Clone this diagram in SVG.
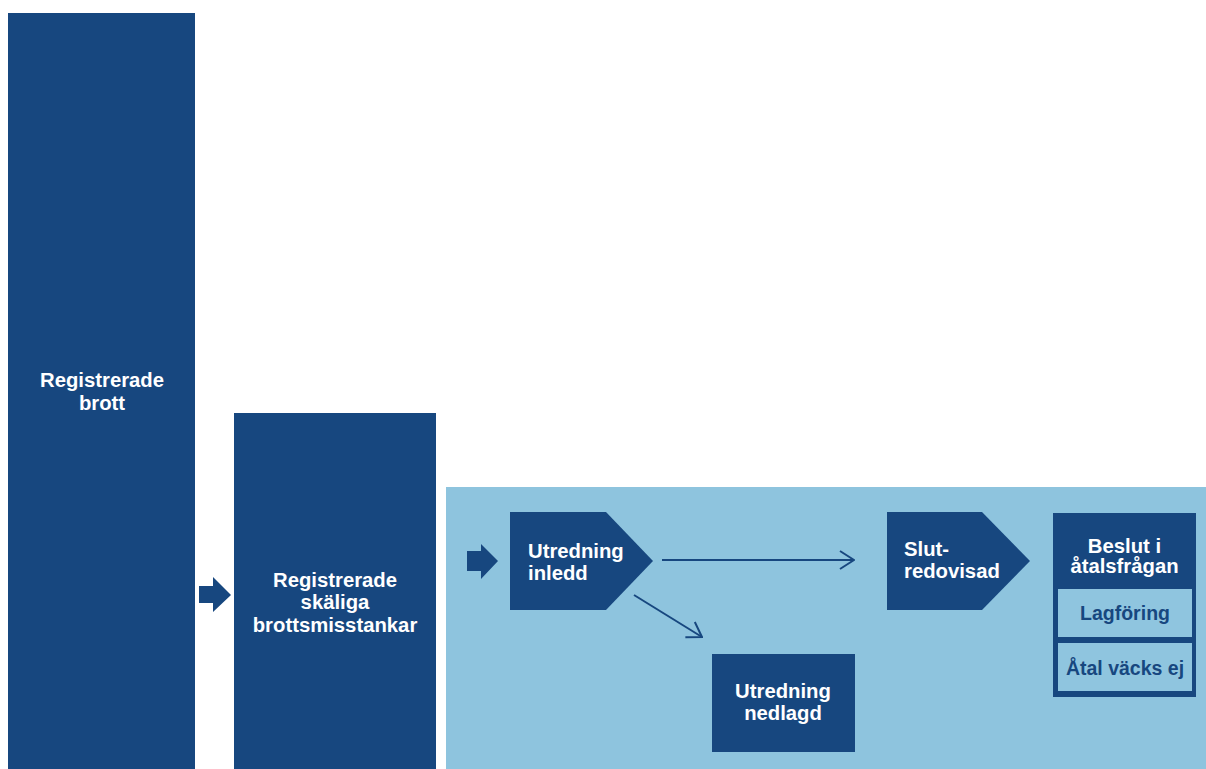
<svg xmlns="http://www.w3.org/2000/svg" width="1206" height="769" viewBox="0 0 1206 769">
<defs>
<style>
.dk{fill:#17477f}
.lt{fill:#8ec4de}
.in{fill:#8fc5df}
.tw{font-family:"Liberation Sans",Arial,sans-serif;font-weight:bold;font-size:20.3px;fill:#ffffff}
.td{font-family:"Liberation Sans",Arial,sans-serif;font-weight:bold;font-size:19.5px;fill:#17477f}
.ln{fill:none;stroke:#17477f;stroke-width:2}
</style>
<marker id="ah" viewBox="0 0 16 20" refX="15" refY="10" markerWidth="16" markerHeight="20" markerUnits="userSpaceOnUse" orient="auto">
<path d="M1,1 L15,10 L1,19" fill="none" stroke="#17477f" stroke-width="2"/>
</marker>
</defs>
<rect width="1206" height="769" fill="#ffffff"/>
<rect id="bg" class="lt" x="446" y="487" width="760" height="282"/>
<g id="n1">
<rect class="dk" x="8" y="13" width="187" height="756"/>
<text class="tw" text-anchor="middle" x="102" y="387">Registrerade</text>
<text class="tw" text-anchor="middle" x="102" y="410">brott</text>
</g>
<g id="n2">
<rect class="dk" x="234" y="413" width="202" height="356"/>
<text class="tw" text-anchor="middle" x="335" y="587">Registrerade</text>
<text class="tw" text-anchor="middle" x="335" y="609">skäliga</text>
<text class="tw" text-anchor="middle" x="335" y="632">brottsmisstankar</text>
</g>
<g id="n3">
<polygon class="dk" points="510,512 606,512 653,561 606,610 510,610"/>
<text class="tw" x="528" y="558">Utredning</text>
<text class="tw" x="528" y="580">inledd</text>
</g>
<g id="n4">
<rect class="dk" x="712" y="654" width="143" height="98"/>
<text class="tw" text-anchor="middle" x="783" y="698">Utredning</text>
<text class="tw" text-anchor="middle" x="783" y="720">nedlagd</text>
</g>
<g id="n5">
<polygon class="dk" points="887,512 982,512 1030,561 982,610 887,610"/>
<text class="tw" x="904" y="556">Slut-</text>
<text class="tw" x="904" y="578">redovisad</text>
</g>
<g id="n6">
<rect class="dk" x="1053" y="513" width="143" height="184"/>
<text class="tw" text-anchor="middle" x="1124.5" y="553">Beslut i</text>
<text class="tw" text-anchor="middle" x="1124.5" y="573">åtalsfrågan</text>
<rect class="in" x="1058" y="589" width="134" height="48"/>
<text class="td" text-anchor="middle" x="1125" y="620">Lagföring</text>
<rect class="in" x="1058" y="643" width="134" height="48"/>
<text class="td" text-anchor="middle" x="1125" y="675">Åtal väcks ej</text>
</g>
<g id="connectors">
<polygon class="dk" points="199,586 213,586 213,577 231,595 213,612 213,603 199,603"/>
<polygon class="dk" points="467,551 481,551 481,544 498,561 481,579 481,571 467,571"/>
<line class="ln" x1="662" y1="560" x2="854" y2="560" marker-end="url(#ah)"/>
<line class="ln" x1="634" y1="595" x2="702" y2="637" marker-end="url(#ah)"/>
</g>
</svg>
